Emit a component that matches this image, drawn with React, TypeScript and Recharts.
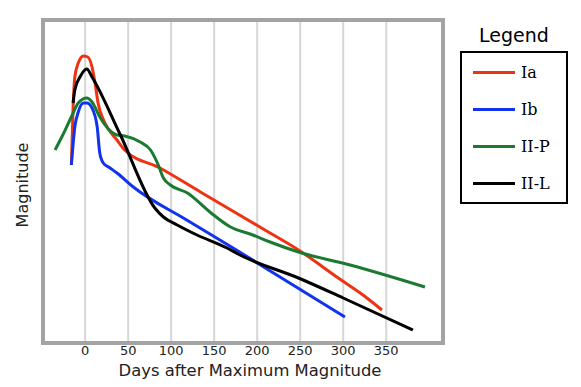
import { LineChart, Line, XAxis, YAxis, CartesianGrid, Legend, ReferenceArea } from "recharts";

// days after maximum (x) and relative magnitude below the top of the frame (y, inverted)
const iaDays = [-16, -14, -12, -8, -2, 3, 8, 11.5, 15, 23, 37, 46, 87, 134, 207, 248, 296, 323, 345];
const iaMag = [7.25, 4.35, 2.85, 2.15, 1.8, 1.85, 2.35, 3.15, 4.15, 5.15, 6.0, 6.5, 7.4, 8.6, 10.45, 11.5, 12.95, 13.75, 14.5];

const ibDays = [-16, -12, -8, -2, 2, 8, 14, 17, 21, 29, 37, 56, 118, 172, 302];
const ibMag = [7.25, 5.35, 4.6, 4.15, 4.15, 4.4, 5.35, 6.65, 7.15, 7.4, 7.65, 8.35, 10.0, 11.4, 14.85];

const iipDays = [-35, -26, -15, -8, 2, 8, 17, 26, 37, 46, 64, 76, 85, 91, 99, 119, 145, 169, 195, 215, 248, 308, 395];
const iipMag = [6.5, 5.75, 4.75, 4.15, 3.9, 4.1, 4.85, 5.4, 5.75, 5.8, 6.1, 6.5, 7.25, 7.9, 8.25, 8.65, 9.6, 10.35, 10.75, 11.1, 11.6, 12.25, 13.35];

const iilDays = [-14, -12, -6, 2, 8, 41, 81, 91, 107, 130, 165, 180, 248, 300, 381];
const iilMag = [4.15, 3.5, 2.85, 2.45, 2.85, 5.75, 9.4, 9.85, 10.25, 10.75, 11.4, 11.75, 12.9, 13.9, 15.5];

const dayTicks = [0, 50, 100, 150, 200, 250, 300, 350];

const toPoints = (days: number[], mags: number[]) => days.map((d, i) => ({ day: d, mag: mags[i] }));

const series = [
  { name: "Ia", color: "#ee3311", data: toPoints(iaDays, iaMag) },
  { name: "Ib", color: "#1133ee", data: toPoints(ibDays, ibMag) },
  { name: "II-P", color: "#1b7a32", data: toPoints(iipDays, iipMag) },
  { name: "II-L", color: "#000000", data: toPoints(iilDays, iilMag) },
];

const sans = "'DejaVu Sans', Verdana, sans-serif";

const XTitle = ({ viewBox }: any) => (
  <text
    x={viewBox.x + viewBox.width / 2 + 7}
    y={viewBox.y + 33}
    textAnchor="middle"
    fontFamily={sans}
    fontSize={16.4}
    fill="#222"
  >
    Days after Maximum Magnitude
  </text>
);

const YTitle = () => (
  <text
    x={22}
    y={185}
    transform="rotate(-90 22 185)"
    textAnchor="middle"
    dominantBaseline="central"
    fontFamily={sans}
    fontSize={16}
    fill="#222"
  >
    Magnitude
  </text>
);

const LegendBox = () => (
  <div style={{ width: 108, fontFamily: sans }}>
    <div style={{ fontSize: 19, lineHeight: "24px", textAlign: "center", color: "#000", marginBottom: 4 }}>
      Legend
    </div>
    <div style={{ border: "2px solid #000", height: 148, paddingTop: 1, boxSizing: "content-box" }}>
      {series.map((s) => (
        <div key={s.name} style={{ height: 37, display: "flex", alignItems: "center" }}>
          <div style={{ width: 42, height: 3, background: s.color, marginLeft: 11 }} />
          <span style={{ marginLeft: 6, fontFamily: "'DejaVu Serif', serif", fontSize: 16, color: "#000" }}>
            {s.name}
          </span>
        </div>
      ))}
    </div>
  </div>
);

export default function App() {
  return (
    <div style={{ position: "absolute", left: 0, top: 0, width: 581, height: 387, background: "#fff" }}>
      <LineChart width={581} height={387} margin={{ top: 20, right: 138, bottom: 0, left: 0 }}>
        <CartesianGrid horizontal={false} stroke="#d6d6d6" strokeWidth={2} />
        <XAxis
          type="number"
          dataKey="day"
          domain={[-49, 416]}
          ticks={dayTicks}
          allowDataOverflow
          axisLine={false}
          tickLine={false}
          tickSize={0}
          tickMargin={3}
          height={44}
          tick={{ fontFamily: sans, fontSize: 13, fill: "#222" }}
          label={<XTitle />}
        />
        <YAxis
          type="number"
          dataKey="mag"
          reversed
          domain={[0, 16.15]}
          allowDataOverflow
          width={43}
          tick={false}
          axisLine={false}
          tickLine={false}
          label={<YTitle />}
        />
        {series.map((s) => (
          <Line
            key={s.name}
            data={s.data}
            dataKey="mag"
            name={s.name}
            type="monotone"
            stroke={s.color}
            strokeWidth={3}
            dot={false}
            isAnimationActive={false}
          />
        ))}
        <ReferenceArea
          x1={-49}
          x2={416}
          y1={0}
          y2={16.15}
          fill="none"
          stroke="#a3a3a3"
          strokeWidth={4}
          ifOverflow="visible"
        />
        <Legend
          layout="vertical"
          align="center"
          verticalAlign="middle"
          content={<LegendBox />}
          wrapperStyle={{ left: 460, top: 23, width: 108, height: 182 }}
        />
      </LineChart>
    </div>
  );
}
